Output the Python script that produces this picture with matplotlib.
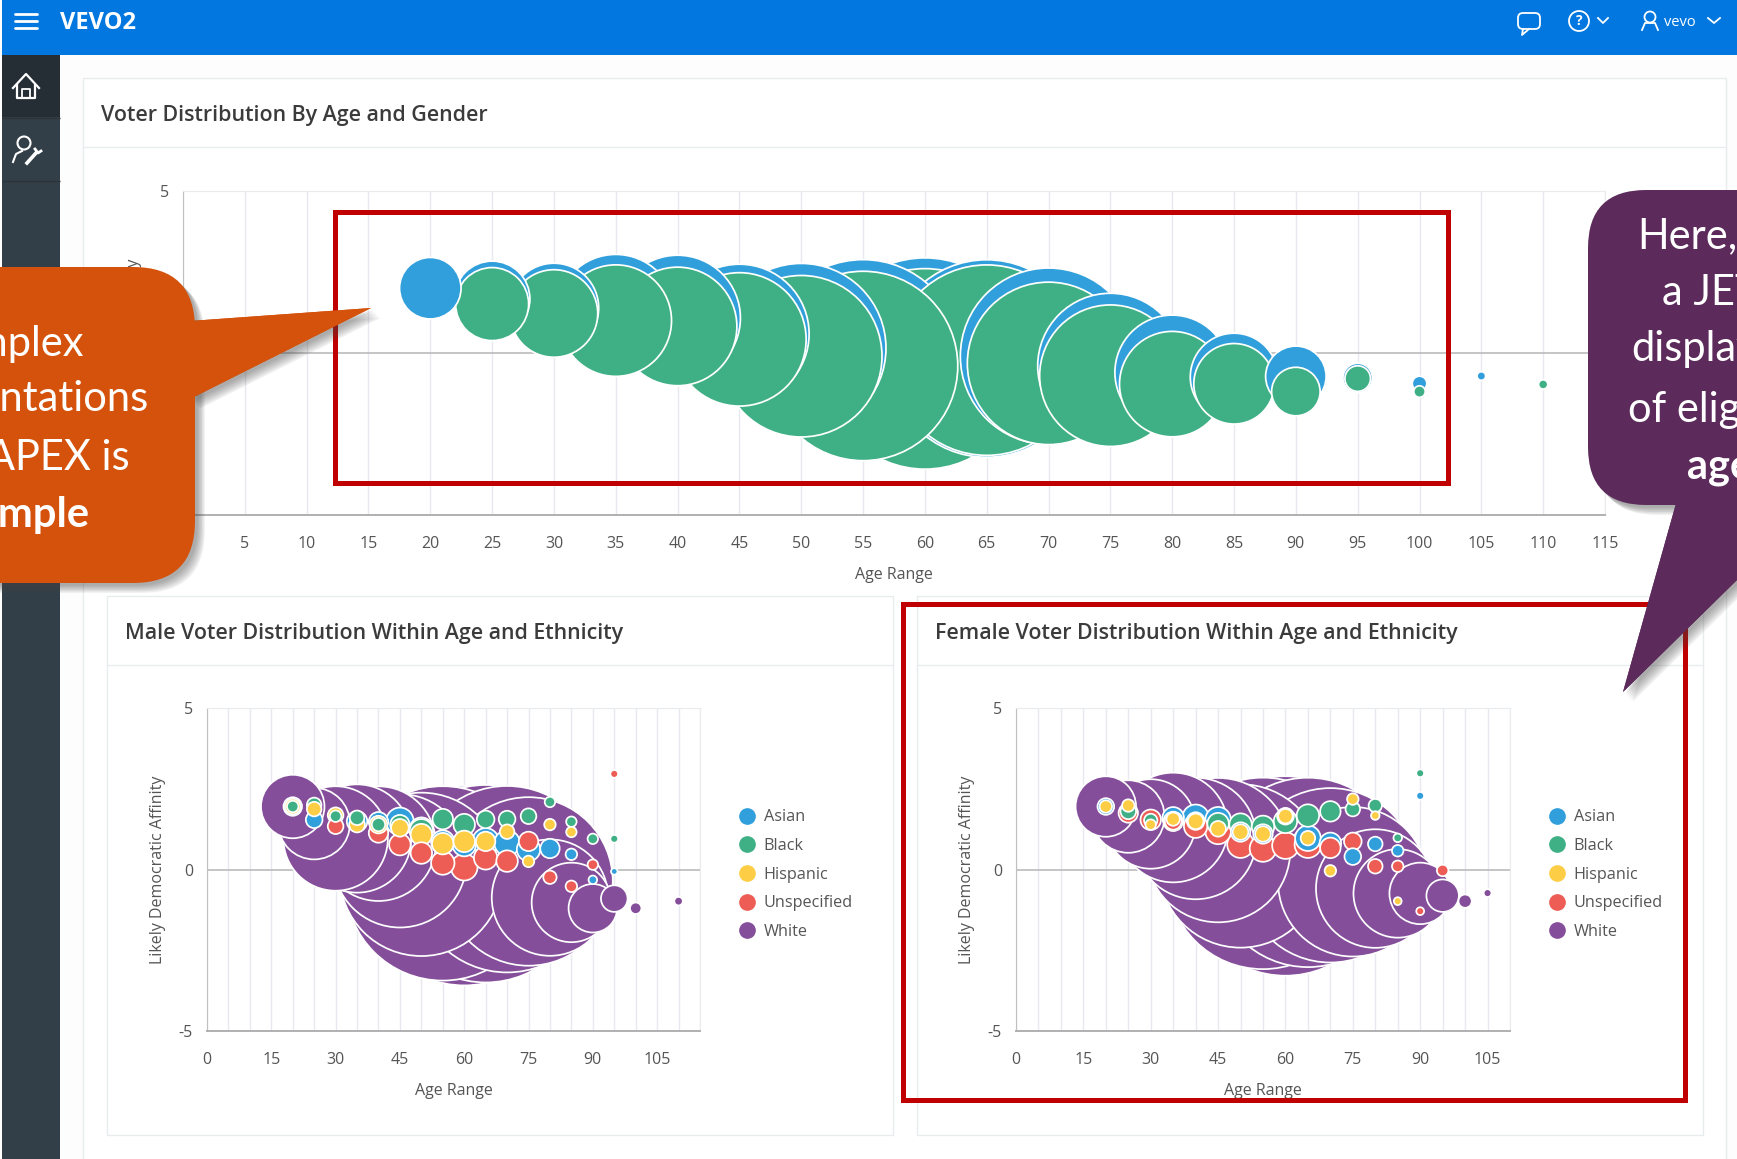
import numpy as np
import matplotlib
matplotlib.use('Agg')
import matplotlib.pyplot as plt
import matplotlib.patheffects as pe
from matplotlib.lines import Line2D
from matplotlib.patches import Rectangle, FancyBboxPatch, Polygon, Circle

plt.rcParams['font.family'] = ['Open Sans', 'DejaVu Sans']
plt.rcParams['axes.unicode_minus'] = False

W, H = 1737, 1159

BLUE = '#309fdb'
GREEN = '#3fb085'
YELLOW = '#fdce45'
RED = '#ed5d55'
PURPLE = '#854e9b'

# bubble size = voters (relative units)
top_asian_age = [20, 25, 30, 35, 40, 45, 50, 55, 60, 65, 70, 75, 80, 85, 90, 95, 100, 105]
top_asian_aff = [2.0, 1.67, 1.39, 1.2, 1.08, 0.59, 0.15, -0.15, -0.25, -0.17, -0.1, -0.4, -0.6, -0.74, -0.72, -0.77, -0.94, -0.71]
top_asian_vot = [36, 54.8, 77.4, 139, 154, 190, 282, 380, 420, 384, 306, 207, 128, 74, 34.8, 7.8, 1.7, 0.5]

top_black_age = [25, 30, 35, 40, 45, 50, 55, 60, 65, 70, 75, 80, 85, 90, 95, 100, 110]
top_black_aff = [1.51, 1.22, 1.0, 0.82, 0.42, -0.1, -0.4, -0.49, -0.22, -0.32, -0.7, -0.96, -0.95, -1.19, -0.79, -1.19, -0.97]
top_black_vot = [51.1, 74, 121, 137, 174, 256, 353, 396, 357, 259, 196, 108, 62.4, 22.1, 5.8, 1, 0.6]

male_white_age = [20, 25, 30, 35, 40, 45, 50, 55, 60, 65, 70, 75, 80, 85, 90, 95, 100, 110]
male_white_aff = [1.95, 1.42, 0.96, 0.96, 0.8, 0.27, -0.15, -0.43, -0.5, -0.44, -0.3, -0.37, -0.87, -1.02, -1.2, -0.9, -1.2, -0.98]
male_white_vot = [38.4, 49, 106, 114, 128, 174, 262, 372, 392, 384, 342, 279, 132, 60.8, 22.1, 6.3, 1, 0.5]

male_asian_age = [20, 25, 35, 40, 45, 50, 55, 60, 65, 70, 75, 80, 85, 90, 95]
male_asian_aff = [1.95, 1.54, 1.49, 1.48, 1.49, 1.25, 0.85, 0.77, 0.87, 0.82, 0.62, 0.65, 0.47, -0.32, -0.06]
male_asian_vot = [2.9, 2.3, 3.6, 3.2, 6.8, 4.8, 4.8, 4.8, 6.3, 5.8, 4.8, 3.2, 1, 0.5, 0.25]

male_black_age = [20, 25, 30, 35, 40, 45, 50, 55, 60, 65, 70, 75, 80, 85, 90, 95]
male_black_aff = [1.95, 2.0, 1.65, 1.6, 1.39, 1.39, 1.2, 1.56, 1.39, 1.55, 1.56, 1.65, 2.09, 1.48, 0.95, 0.95]
male_black_vot = [1, 1.7, 1, 1.7, 1.4, 3.2, 4.8, 3.6, 4, 2.6, 2.3, 2, 0.8, 0.8, 0.8, 0.4]

male_hisp_age = [20, 25, 30, 35, 40, 45, 50, 55, 60, 65, 70, 75, 80, 85]
male_hisp_aff = [1.95, 1.87, 1.68, 1.39, 1.39, 1.29, 1.08, 0.8, 0.87, 0.87, 1.17, 0.25, 1.39, 1.16]
male_hisp_vot = [2, 1.7, 2, 2, 2.6, 2.6, 4, 4, 4, 3.2, 1.7, 1, 1, 0.8]

male_unsp_age = [30, 40, 45, 50, 55, 60, 65, 70, 75, 80, 85, 90, 95]
male_unsp_aff = [1.34, 1.13, 0.77, 0.51, 0.2, 0.07, 0.36, 0.26, 0.87, -0.24, -0.52, 0.15, 2.96]
male_unsp_vot = [2, 3.2, 4, 4, 4.8, 6.3, 4.8, 4, 3.2, 1.4, 1, 0.8, 0.4]

fem_white_age = [20, 25, 30, 35, 40, 45, 50, 55, 60, 65, 70, 75, 80, 85, 90, 95, 100, 105]
fem_white_aff = [1.95, 1.64, 1.41, 1.3, 0.96, 0.6, 0.11, -0.12, -0.2, -0.09, -0.18, -0.38, -0.59, -0.74, -0.74, -0.81, -0.98, -0.73]
fem_white_vot = [34.8, 50.4, 77.4, 117, 144, 204, 262, 361, 392, 353, 299, 219, 137, 75.7, 36, 9.6, 1.4, 0.4]

fem_asian_age = [20, 35, 40, 45, 50, 55, 60, 65, 70, 75, 80, 85, 90]
fem_asian_aff = [1.95, 1.6, 1.6, 1.54, 1.16, 1.1, 1.65, 0.97, 0.81, 0.4, 0.79, 0.58, 2.28]
fem_asian_vot = [2.3, 4, 6.3, 5.8, 3.2, 3.2, 2.3, 5.8, 4, 2.3, 1.7, 1, 0.4]

fem_black_age = [25, 30, 35, 40, 45, 50, 55, 60, 65, 70, 75, 80, 85, 90]
fem_black_aff = [1.8, 1.52, 1.49, 1.5, 1.42, 1.39, 1.32, 1.49, 1.67, 1.8, 1.87, 1.98, 0.98, 2.98]
fem_black_vot = [2, 1.4, 3.2, 2.6, 4, 4.4, 4.4, 4.8, 4.4, 3.6, 1.7, 1.4, 0.5, 0.4]

fem_hisp_age = [20, 25, 30, 35, 40, 45, 50, 55, 60, 65, 70, 75, 80, 85]
fem_hisp_aff = [1.95, 1.98, 1.39, 1.56, 1.49, 1.26, 1.16, 1.1, 1.65, 0.97, -0.04, 2.18, 1.67, -0.98]
fem_hisp_vot = [1.2, 1.2, 0.8, 1.4, 2, 2, 2, 2, 1.7, 1.7, 1, 1, 0.5, 0.4]

fem_unsp_age = [25, 30, 35, 40, 45, 50, 55, 60, 65, 70, 75, 80, 85, 90, 95]
fem_unsp_aff = [1.75, 1.54, 1.49, 1.34, 1.18, 0.77, 0.65, 0.74, 0.77, 0.67, 0.87, 0.1, 0.1, -1.29, -0.03]
fem_unsp_vot = [3.2, 3.6, 2.3, 4.8, 5.8, 6.3, 6.3, 6.3, 6.3, 3.6, 2.6, 1.7, 1, 0.4, 1]

legend_names = ['Asian', 'Black', 'Hispanic', 'Unspecified', 'White']
legend_colors = [BLUE, GREEN, YELLOW, RED, PURPLE]

fig = plt.figure(figsize=(W / 100, H / 100), dpi=100, facecolor='white')

# page furniture, in pixel coordinates
back = fig.add_axes([0, 0, 1, 1], zorder=0)
back.set_xlim(0, W)
back.set_ylim(H, 0)
back.axis('off')

front = fig.add_axes([0, 0, 1, 1], zorder=5)
front.set_xlim(0, W)
front.set_ylim(H, 0)
front.axis('off')
front.patch.set_alpha(0)


def rect(ax, x0, y0, x1, y1, **kw):
    ax.add_patch(Rectangle((x0, y0), x1 - x0, y1 - y0, **kw))


rect(back, 2, 0, W, 55, color='#0277df', lw=0)
rect(back, 60, 55, W, H, color='#fdfdfd', lw=0)
rect(back, 2, 55, 60, H, color='#333f48', lw=0)
rect(back, 2, 55, 60, 117, color='#262e35', lw=0)
back.plot([2, 60], [118, 118], color='#2b343b', lw=1, solid_capstyle='butt')
back.plot([2, 60], [181, 181], color='#2b343b', lw=1, solid_capstyle='butt')

card_edge = '#e9ecef'
rect(back, 83, 78, 1726, 1220, fc='white', ec=card_edge, lw=1)
back.plot([83, 1726], [147, 147], color=card_edge, lw=1)
rect(back, 107, 596, 893, 1135, fc='white', ec=card_edge, lw=1)
back.plot([107, 893], [665, 665], color=card_edge, lw=1)
rect(back, 917, 596, 1703, 1135, fc='white', ec=card_edge, lw=1)
back.plot([917, 1703], [665, 665], color=card_edge, lw=1)

title_color = '#3b3b3b'
back.text(101, 115, 'Voter Distribution By Age and Gender', fontsize=15.4, fontweight='semibold',
          color=title_color, va='center')
back.text(125, 633, 'Male Voter Distribution Within Age and Ethnicity', fontsize=15.4, fontweight='semibold',
          color=title_color, va='center')
back.text(935, 633, 'Female Voter Distribution Within Age and Ethnicity', fontsize=15.4, fontweight='semibold',
          color=title_color, va='center')

# top bar
for yy in [14, 21, 28]:
    back.plot([15, 37], [yy, yy], color='white', lw=2, solid_capstyle='round')
back.text(60, 23, 'VEVO2', color='white', fontsize=17, fontweight='bold', va='center')
back.add_patch(FancyBboxPatch((1520, 15), 18, 12, boxstyle='round,pad=2,rounding_size=5', fc='none', ec='white', lw=1.3))
back.plot([1523, 1522, 1529], [29, 35, 29], color='white', lw=1.3)
back.add_patch(Circle((1579, 21), 10, fc='none', ec='white', lw=1.3))
back.text(1579, 21, '?', color='white', fontsize=10, fontweight='bold', ha='center', va='center')
back.plot([1598, 1603, 1608], [18, 23, 18], color='white', lw=1.3)
back.add_patch(Circle((1650, 17), 5.5, fc='none', ec='white', lw=1.3))
back.plot([1642, 1645, 1655, 1658], [30, 23, 23, 30], color='white', lw=1.3)
back.text(1664, 23, 'vevo', color='white', fontsize=10.5, va='center')
back.plot([1708, 1714, 1720], [18, 23, 18], color='white', lw=1.3)

# sidebar icons
back.plot([13, 26, 39], [88, 74, 88], color='white', lw=1.6)
back.plot([17, 17, 35, 35], [85, 98, 98, 85], color='white', lw=1.6)
back.plot([22, 22, 30, 30], [98, 89, 89, 98], color='white', lw=1.3)
back.add_patch(Circle((24, 143), 6.5, fc='none', ec='white', lw=1.5))
back.plot([13, 16, 22], [162, 154, 151], color='white', lw=1.5)
back.plot([27, 36], [163, 153], color='white', lw=2.6)
back.plot([35, 38, 41], [149, 153, 151], color='white', lw=2)


def bubble_chart(box, xmax, xticks, series, legend=False):
    left, top, right, bottom = box
    ax = fig.add_axes([left / W, 1 - bottom / H, (right - left) / W, (bottom - top) / H], zorder=2)
    ax.patch.set_alpha(0)
    ax.set_xlim(0, xmax)
    ax.set_ylim(-5, 5)
    ax.set_xticks(np.arange(0, xmax + 1, 5), minor=True)
    ax.set_xticks(xticks)
    ax.set_yticks([-5, 0, 5])
    ax.grid(True, axis='x', which='both', color='#e6e9ef', lw=1)
    ax.set_axisbelow(True)
    ax.axhline(0, color='#b5b5b5', lw=1.1, zorder=1)
    ax.tick_params(which='both', length=0)
    ax.tick_params(axis='x', pad=15, labelsize=11.5, labelcolor='#555555')
    ax.tick_params(axis='y', pad=10, labelsize=11.5, labelcolor='#555555')
    for side in ['top', 'right']:
        ax.spines[side].set_color('#e9ecef')
    ax.spines['left'].set_color('#c0c0c0')
    ax.spines['bottom'].set_color('#b0b0b0')
    ax.spines['bottom'].set_linewidth(1.4)
    ax.set_xlabel('Age Range', fontsize=11.5, color='#555555', labelpad=11)
    ax.set_ylabel('Likely Democratic Affinity', fontsize=11.5, color='#555555', labelpad=9.5)

    # biggest bubbles go at the back, whatever the series
    age = np.concatenate([s[0] for s in series])
    aff = np.concatenate([s[1] for s in series])
    vot = np.concatenate([s[2] for s in series])
    col = np.concatenate([[s[3]] * len(s[0]) for s in series])
    order = np.argsort(-vot, kind='stable')
    diam = 10 * np.sqrt(vot[order]) + 1.5
    ax.scatter(age[order], aff[order], s=(diam * 0.72) ** 2, c=col[order], edgecolors='white', linewidths=1.25,
               zorder=3)

    if legend:
        handles = [Line2D([], [], ls='', marker='o', ms=11, color=c, mec=c) for c in legend_colors]
        ax.legend(handles, legend_names, loc='upper left', bbox_to_anchor=(1.075, 0.686), frameon=False,
                  fontsize=11.7, labelcolor='#555555', labelspacing=0.78, handletextpad=0.45, borderpad=0,
                  borderaxespad=0, handlelength=1.2)
    return ax


bubble_chart((183, 191, 1605, 515), 115, np.arange(5, 116, 5),
             [(top_asian_age, top_asian_aff, top_asian_vot, BLUE),
              (top_black_age, top_black_aff, top_black_vot, GREEN)])
bubble_chart((207, 708, 700, 1031), 115, np.arange(0, 106, 15),
             [(male_white_age, male_white_aff, male_white_vot, PURPLE),
              (male_asian_age, male_asian_aff, male_asian_vot, BLUE),
              (male_black_age, male_black_aff, male_black_vot, GREEN),
              (male_hisp_age, male_hisp_aff, male_hisp_vot, YELLOW),
              (male_unsp_age, male_unsp_aff, male_unsp_vot, RED)], legend=True)
bubble_chart((1016, 708, 1510, 1031), 110, np.arange(0, 106, 15),
             [(fem_white_age, fem_white_aff, fem_white_vot, PURPLE),
              (fem_asian_age, fem_asian_aff, fem_asian_vot, BLUE),
              (fem_black_age, fem_black_aff, fem_black_vot, GREEN),
              (fem_hisp_age, fem_hisp_aff, fem_hisp_vot, YELLOW),
              (fem_unsp_age, fem_unsp_aff, fem_unsp_vot, RED)], legend=True)

# red highlight boxes and callouts on top
rect(front, 335, 212, 1448, 483, fc='none', ec='#c00000', lw=3.6)
rect(front, 903, 604, 1685, 1100, fc='none', ec='#c00000', lw=3.6)

# soft shadow from a few stacked offsets
shadow = [pe.SimplePatchShadow(offset=(o, -o), shadow_rgbFace='#444444', alpha=0.09) for o in [2, 3, 4, 5, 6, 7]]
shadow.append(pe.Normal())


def callout(body, radius, tail, color):
    x0, y0, x1, y1 = body
    tail_shape = Polygon(tail, closed=True, fc=color, ec='none', path_effects=shadow)
    box = FancyBboxPatch((x0 + radius, y0 + radius), x1 - x0 - 2 * radius, y1 - y0 - 2 * radius,
                         boxstyle='round,pad=%d,rounding_size=%d' % (radius, radius), fc=color, ec='none',
                         path_effects=shadow)
    front.add_patch(tail_shape)
    front.add_patch(box)
    front.add_patch(Polygon(tail, closed=True, fc=color, ec='none'))


ORANGE = '#d5520c'
PLUM = '#5c2b5b'
callout((-120, 267, 195, 583), 62, [(190, 321), (371, 308), (190, 399)], ORANGE)
callout((1588, 190, 1860, 505), 58, [(1677, 500), (1623, 692), (1737, 580), (1800, 500)], PLUM)

call_font = ['Lato', 'DejaVu Sans']
for line, right, yy, weight in [('Complex', 84, 344, 'normal'), ('presentations', 148, 399, 'normal'),
                                ('in APEX is', 130, 458, 'normal'), ('simple', 89, 515, 'bold')]:
    front.text(right, yy, line, ha='right', va='center', color='white', fontsize=30, fontweight=weight,
               family=call_font, clip_on=True)
for line, left, yy, weight in [('Here,', 1637, 236, 'normal'), ('a JET', 1662, 293, 'normal'),
                               ('display', 1631, 349, 'normal'), ('of eligible', 1628, 410, 'normal'),
                               ('age', 1687, 467, 'bold')]:
    front.text(left, yy, line, ha='left', va='center', color='white', fontsize=30, fontweight=weight,
               family=call_font, clip_on=True)

fig.savefig('out.png', dpi=100)
